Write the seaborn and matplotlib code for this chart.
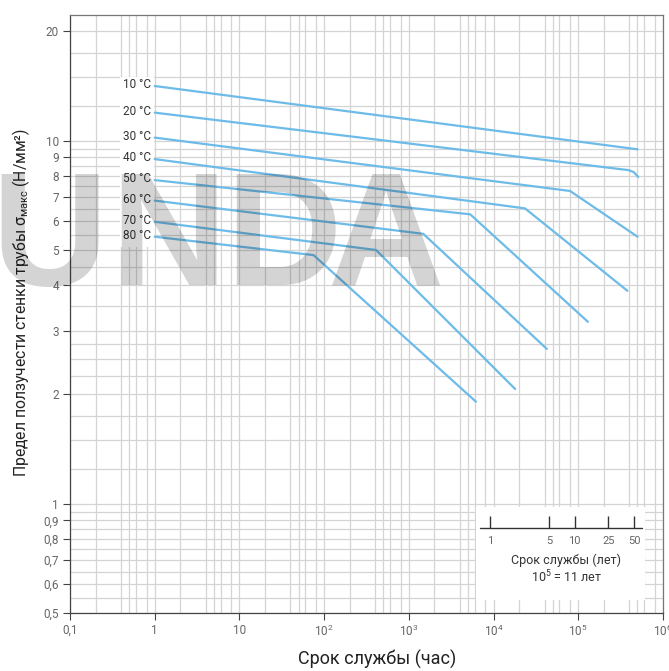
import matplotlib
matplotlib.use("Agg")
import matplotlib.pyplot as plt
import numpy as np
import pandas as pd
import seaborn as sns
from matplotlib.patches import Rectangle
from matplotlib.ticker import NullFormatter

# creep curves: hours -> stress (N/mm2)
temps = [10, 20, 30, 40, 50, 60, 70, 80]

hours_10c = [1, 5.0e5]
stress_10c = [14.15, 9.47]
hours_20c = [1, 3.9e5, 4.5e5, 5.1e5]
stress_20c = [11.95, 8.3, 8.2, 7.95]
hours_30c = [1, 8.0e4, 5.0e5]
stress_30c = [10.2, 7.27, 5.44]
hours_40c = [1, 2.35e4, 3.8e5]
stress_40c = [8.9, 6.51, 3.86]
hours_50c = [1, 5.3e3, 1.3e5]
stress_50c = [7.79, 6.27, 3.17]
hours_60c = [1, 1.48e3, 4.25e4]
stress_60c = [6.84, 5.54, 2.67]
hours_70c = [1, 410, 1.8e4]
stress_70c = [5.98, 5.0, 2.07]
hours_80c = [1, 75, 6.2e3]
stress_80c = [5.44, 4.84, 1.91]

all_hours = [hours_10c, hours_20c, hours_30c, hours_40c,
             hours_50c, hours_60c, hours_70c, hours_80c]
all_stress = [stress_10c, stress_20c, stress_30c, stress_40c,
              stress_50c, stress_60c, stress_70c, stress_80c]

# axis ticks
x_major = [0.1, 1, 10, 1e2, 1e3, 1e4, 1e5, 1e6]
x_labels = ["0,1", "1", "10", r"$\mathregular{10^2}$", r"$\mathregular{10^3}$",
            r"$\mathregular{10^4}$", r"$\mathregular{10^5}$", r"$\mathregular{10^6}$"]
y_major = [0.5, 0.6, 0.7, 0.8, 0.9, 1, 2, 3, 4, 5, 6, 7, 8, 9, 10, 20]
y_labels = ["0,5", "0,6", "0,7", "0,8", "0,9", "1", "2", "3", "4", "5",
            "6", "7", "8", "9", "10", "20"]
y_minor = [0.55, 0.65, 0.75, 0.85, 0.95, 1.25, 1.5, 1.75, 2.25, 2.5, 2.75,
           3.5, 4.5, 5.5, 6.5, 7.5, 8.5, 9.5, 12.5, 15, 17.5]
x_minor = [m * 10.0 ** e for e in range(-1, 6) for m in (2, 4, 5, 6, 8)]

# service life scale (years), 10^5 h = 11 years
years = [1, 5, 10, 25, 50]
hours_per_year = 1e5 / 11

frames = []
for t, h, s in zip(temps, all_hours, all_stress):
    frames.append(pd.DataFrame({"hours": h, "stress": s, "temp": t}))
df = pd.concat(frames, ignore_index=True)

sns.set_theme(style="white")
plt.rcParams["font.family"] = ["Roboto", "DejaVu Sans"]
plt.rcParams["mathtext.fontset"] = "custom"
plt.rcParams["mathtext.rm"] = "Roboto"
plt.rcParams["mathtext.it"] = "Roboto:italic"
plt.rcParams["mathtext.bf"] = "Roboto:bold"

blue = "#6dbbe8"
grid_c = "#d4d4d4"

fig = plt.figure(figsize=(6.69, 6.71), dpi=100)
ax = fig.add_axes([70 / 669, 1 - 613 / 671, 593 / 669, 598 / 671])
ax.set_xscale("log")
ax.set_yscale("log")

sns.lineplot(data=df, x="hours", y="stress", hue="temp",
             palette={t: blue for t in temps}, estimator=None, sort=False,
             legend=False, lw=1.6, ax=ax, zorder=3)

ax.set_xlim(0.1, 1e6)
ax.set_ylim(0.5, 22.2)

ax.set_xticks(x_major, labels=x_labels)
ax.set_xticks(x_minor, minor=True)
ax.set_yticks(y_major, labels=y_labels)
ax.set_yticks(y_minor, minor=True)
ax.xaxis.set_minor_formatter(NullFormatter())
ax.yaxis.set_minor_formatter(NullFormatter())

ax.set_axisbelow(True)
ax.grid(True, which="both", color=grid_c, lw=0.9)
ax.tick_params(which="major", direction="out", length=5, width=0.8,
               color="#444", labelcolor="#666", labelsize=8.5, pad=3)
ax.tick_params(which="minor", length=0)
ax.tick_params(axis="x", which="both", bottom=True, top=False)
ax.tick_params(axis="y", which="both", left=True, right=False)

for side in ["left", "bottom"]:
    ax.spines[side].set_color("#444")
    ax.spines[side].set_linewidth(0.9)
for side in ["top", "right"]:
    ax.spines[side].set_color("#777")
    ax.spines[side].set_linewidth(0.9)

ax.set_xlabel("Срок службы (час)", fontsize=13, color="#222")
ax.xaxis.set_label_coords(0.518, -0.062)
ax.set_ylabel(r"Предел ползучести стенки трубы $\mathregular{σ_{макс}}$ (Н/мм²)",
              fontsize=11.3, color="#222")
ax.yaxis.set_label_coords(-0.064, 0.52)

# white column behind the temperature labels
ax.add_patch(Rectangle((0.39, 5.1), 0.58, 9.9, facecolor="white",
                       edgecolor="none", zorder=1.5))
for t, s in zip(temps, all_stress):
    ax.annotate(f"{t} °C", xy=(1, s[0]), xytext=(-2.4, 1),
                textcoords="offset points", ha="right", va="center",
                fontsize=8.5, color="#333", zorder=4)

# inset with service life in years
ax.add_patch(Rectangle((0.6847, 0.0217), 0.285, 0.155, transform=ax.transAxes,
                       facecolor="white", edgecolor="none", zorder=2.5))
xt = ax.get_xaxis_transform()
ax.plot([6.93e3, 5.6e5], [0.1416, 0.1416], transform=xt, color="#333",
        lw=1, zorder=4)
year_hours = [y * hours_per_year for y in years]
ax.vlines(year_hours, 0.1416, 0.1622, transform=xt, color="#333", lw=1,
          zorder=4)
for y, h in zip(years, year_hours):
    ax.text(h, 0.1209, str(y), transform=xt, ha="center", va="center",
            fontsize=8, color="#666", zorder=4)
ax.text(0.837, 0.0886, "Срок службы (лет)", transform=ax.transAxes,
        ha="center", va="center", fontsize=9, color="#333", zorder=4)
ax.text(0.837, 0.0597, r"$\mathregular{10^5}$ = 11 лет", transform=ax.transAxes,
        ha="center", va="center", fontsize=9, color="#333", zorder=4)

# watermark
for letter, cx in zip("UNDA", [50, 168, 283, 386]):
    fig.text(cx / 669, 1 - 285 / 671, letter, fontsize=116, fontweight="bold",
             family="Liberation Sans", color="black", alpha=0.17,
             ha="center", va="baseline", zorder=10)

fig.savefig("out.png", dpi=100)
